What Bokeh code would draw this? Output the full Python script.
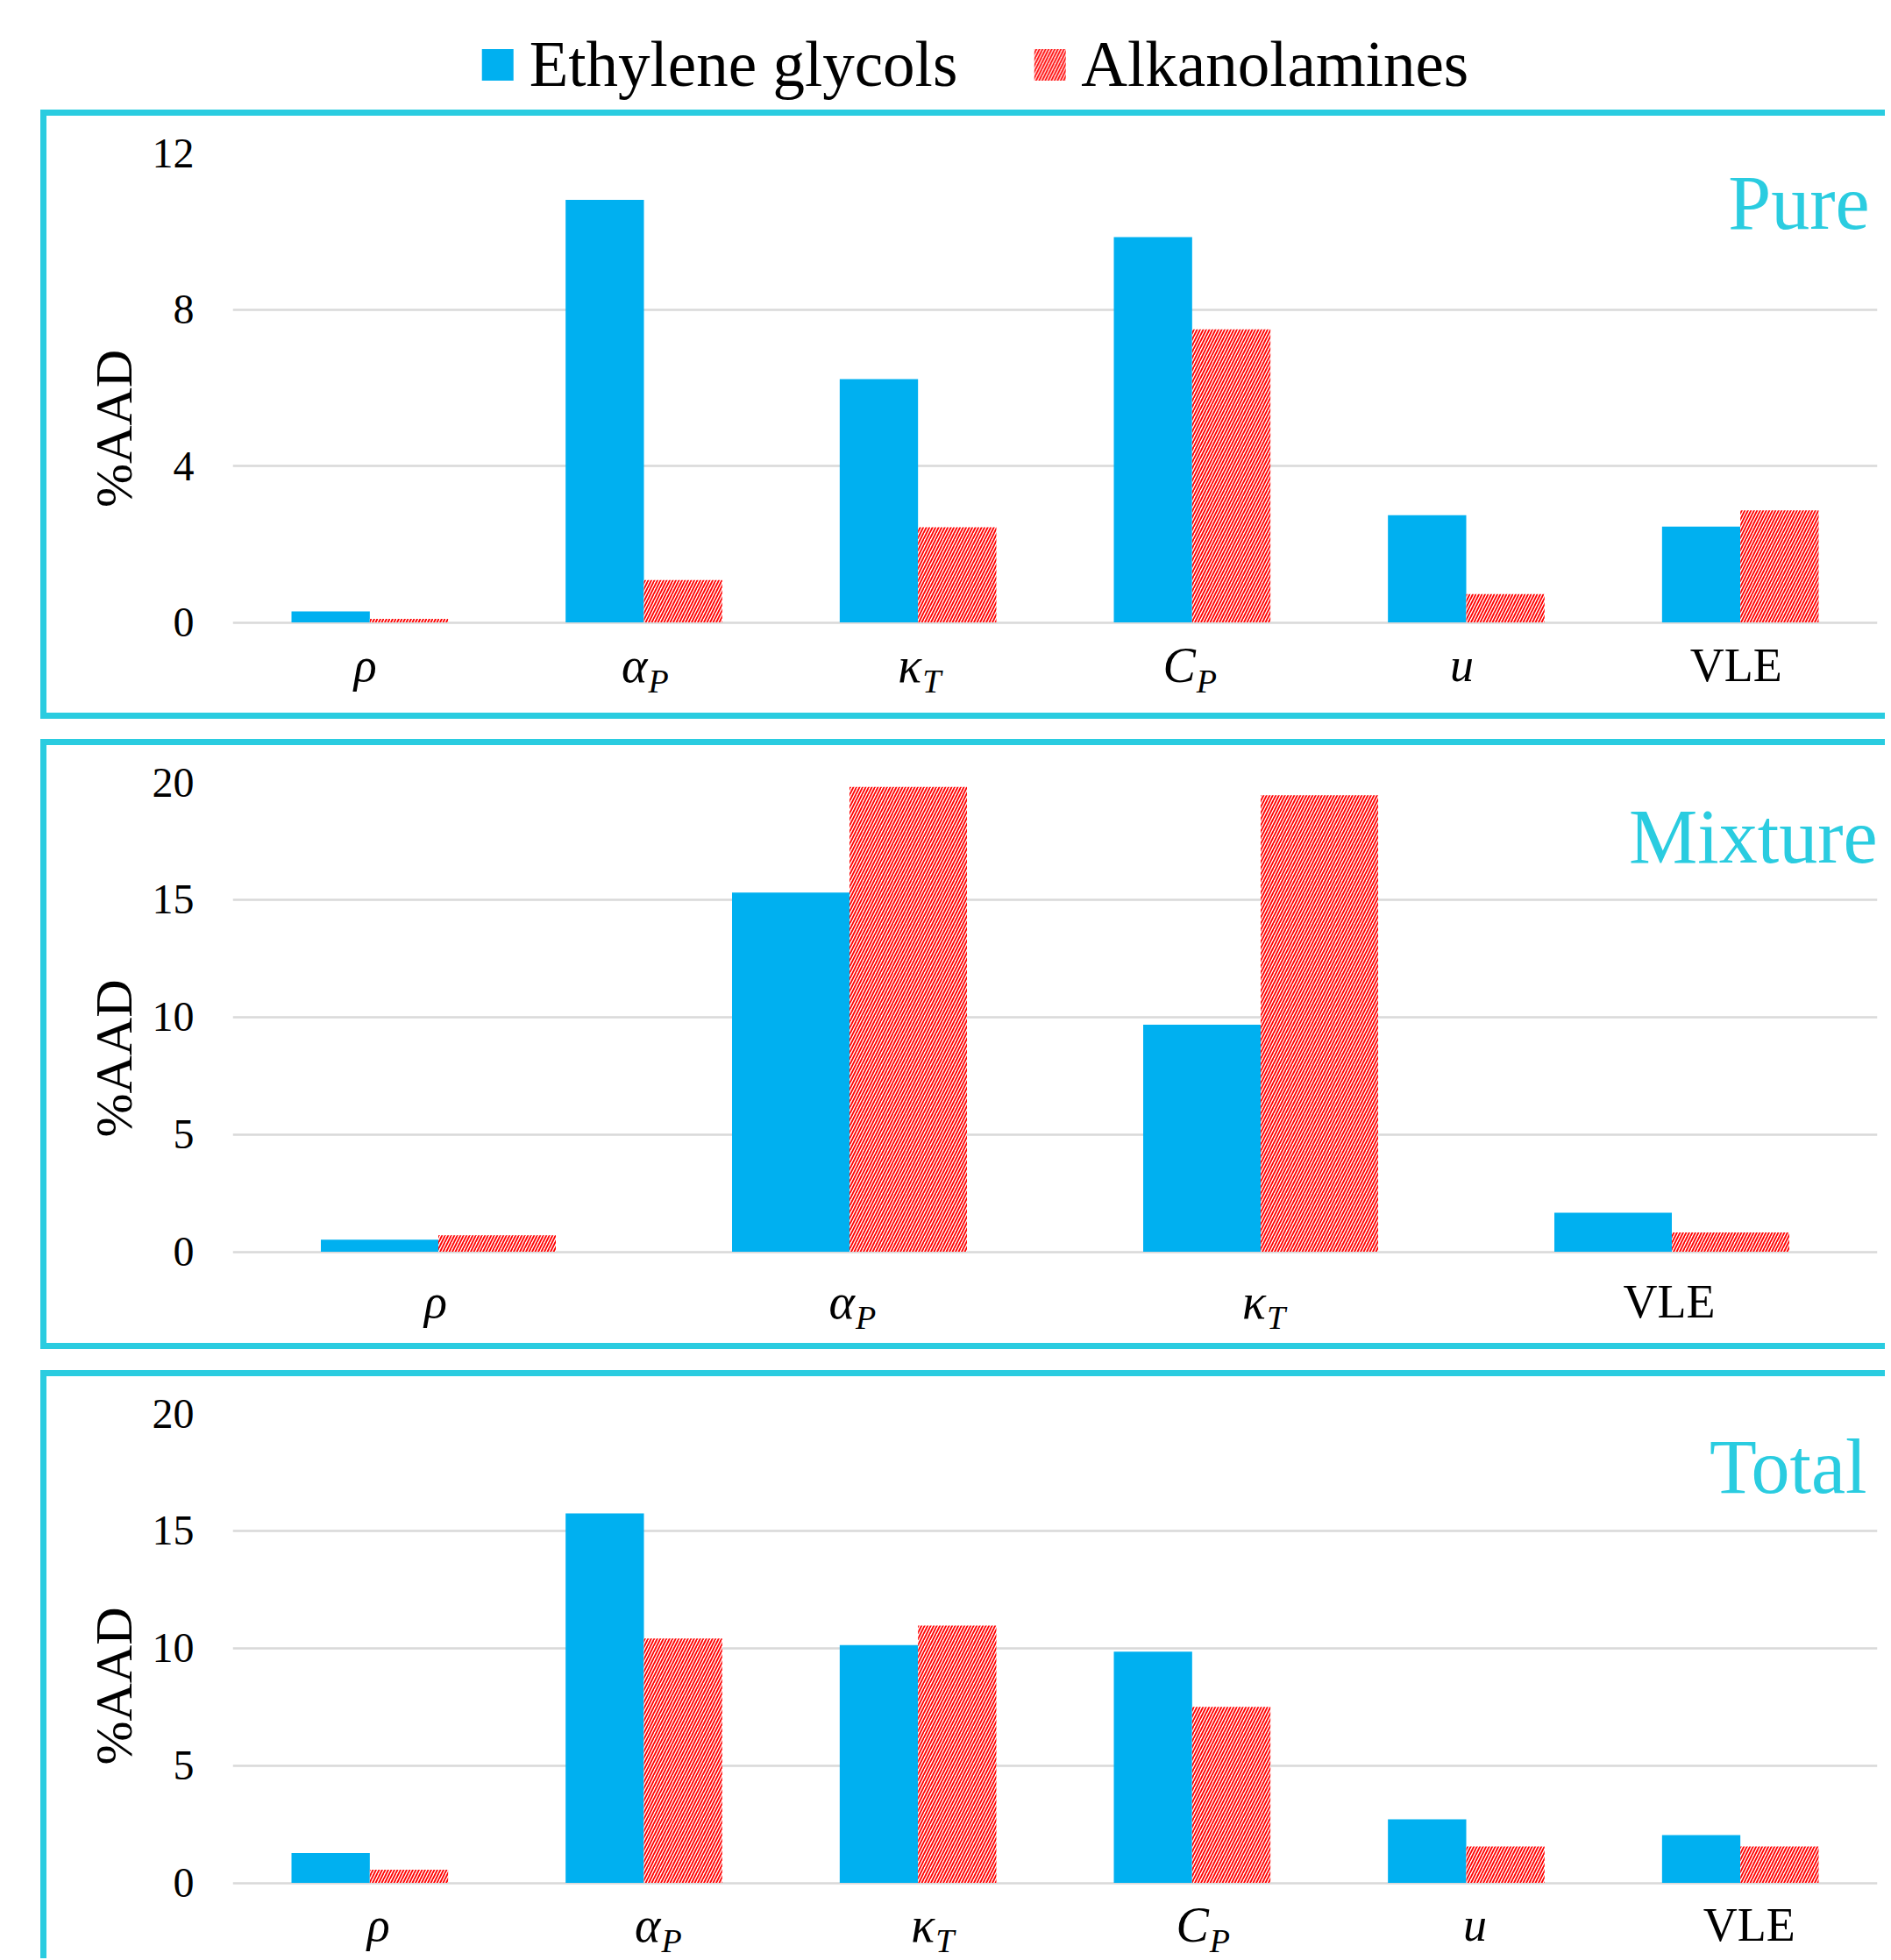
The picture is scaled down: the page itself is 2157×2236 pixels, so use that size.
from bokeh.plotting import figure
from bokeh.models import (ColumnDataSource, FactorRange, Range1d, Legend, LegendItem,
                          Label, FixedTicker, Spacer, Div)
from bokeh.layouts import column, row
from bokeh.transform import dodge
from bokeh.embed import file_html
from bokeh.resources import INLINE

# ---------------- data ----------------
series = ["Ethylene glycols", "Alkanolamines"]

pure_props = ["ρ", "αP", "κT", "CP", "u", "VLE"]
pure_glycols = [0.28, 10.8, 6.22, 9.85, 2.74, 2.45]
pure_amines = [0.09, 1.08, 2.43, 7.49, 0.72, 2.86]
pure_ticks = [0, 4, 8, 12]

mix_props = ["ρ", "αP", "κT", "VLE"]
mix_glycols = [0.51, 15.3, 9.67, 1.66]
mix_amines = [0.70, 19.8, 19.45, 0.82]
mix_ticks = [0, 5, 10, 15, 20]

total_props = ["ρ", "αP", "κT", "CP", "u", "VLE"]
total_glycols = [1.27, 15.74, 10.13, 9.85, 2.71, 2.04]
total_amines = [0.56, 10.41, 10.96, 7.50, 1.55, 1.55]
total_ticks = [0, 5, 10, 15, 20]

label_main = {"ρ": "ρ", "αP": "α", "κT": "κ", "CP": "C", "u": "u", "VLE": "VLE"}
label_sub = {"αP": "P", "κT": "T", "CP": "P"}
upright = {"VLE"}

# ---------------- style ----------------
BLUE = "#00B0F0"
RED = "#FF0000"
CYAN = "#2ACCE0"
GRID = "#D9D9D9"
FONT = "Liberation Serif"
PAGE_W = 2150
BOX_X = 46
LINE = 7
PANEL_W = PAGE_W - BOX_X - LINE
BORDER_L = 212
BORDER_R = 9
BAR_W = 0.2857
PLOT_PX = 535.5   # pixel height between 0 and the top tick


def hatch_kw():
    return dict(fill_color="white", line_color=None, hatch_pattern="right_diagonal_line",
                hatch_color=RED, hatch_scale=7, hatch_weight=1.8)


def cyan_block(w, h):
    return Div(text="", width=w, height=h, margin=0,
               styles={"background-color": CYAN})


def gap(w, h):
    return Spacer(width=w, height=h, margin=0)


def make_panel(props, glycols, amines, ticks, height, bottom, title,
               title_dy, title_dx, label_dy, label_dx):
    top = 42
    ymax = ticks[-1]
    frame_h = height - top - bottom
    ystart = -ymax * (frame_h - PLOT_PX) / PLOT_PX
    p = figure(x_range=FactorRange(factors=props), y_range=Range1d(ystart, ymax),
               width=PANEL_W, height=height, output_backend="svg", toolbar_location=None,
               title=None, x_axis_location=None,
               min_border_left=BORDER_L, min_border_right=BORDER_R,
               min_border_top=top, min_border_bottom=bottom)
    p.outline_line_color = None
    p.background_fill_color = "white"
    p.border_fill_color = "white"
    p.xgrid.visible = False
    p.ygrid.grid_line_color = GRID
    p.ygrid.grid_line_width = 2.5
    ax = p.yaxis[0]
    ax.ticker = FixedTicker(ticks=ticks)
    ax.bounds = (0, ymax)
    ax.axis_line_color = None
    ax.major_tick_line_color = None
    ax.minor_tick_line_color = None
    ax.major_tick_out = 0
    ax.major_tick_in = 0
    ax.major_label_standoff = 44
    ax.major_label_text_font = FONT
    ax.major_label_text_font_size = "48px"
    ax.major_label_text_color = "black"
    ax.axis_label = "%AAD"
    ax.axis_label_text_font = FONT
    ax.axis_label_text_font_size = "60px"
    ax.axis_label_text_font_style = "normal"
    ax.axis_label_text_color = "black"
    ax.axis_label_standoff = 8

    src = ColumnDataSource(dict(prop=props, g=glycols, a=amines))
    p.vbar(x=dodge("prop", -BAR_W / 2, range=p.x_range), top="g", width=BAR_W,
           source=src, fill_color=BLUE, line_color=None)
    p.vbar(x=dodge("prop", BAR_W / 2, range=p.x_range), top="a", width=BAR_W,
           source=src, **hatch_kw())

    # category labels (math italic with subscripts)
    for i, f in enumerate(props):
        main = label_main[f]
        sub = label_sub.get(f)
        style = "normal" if f in upright else "italic"
        if sub:
            p.add_layout(Label(x=i + 0.5, y=0, x_offset=label_dx + 9,
                               y_offset=-(label_dy - 18),
                               text=main, text_align="right", text_baseline="alphabetic",
                               text_font=FONT, text_font_style=style,
                               text_font_size="56px", text_color="black"))
            p.add_layout(Label(x=i + 0.5, y=0, x_offset=label_dx + 10,
                               y_offset=-label_dy,
                               text=sub, text_align="left", text_baseline="alphabetic",
                               text_font=FONT, text_font_style="italic",
                               text_font_size="38px", text_color="black"))
        else:
            p.add_layout(Label(x=i + 0.5, y=0, x_offset=label_dx,
                               y_offset=-(label_dy - 18),
                               text=main, text_align="center", text_baseline="alphabetic",
                               text_font=FONT, text_font_style=style,
                               text_font_size="54px", text_color="black"))

    p.add_layout(Label(x=len(props), y=ymax, x_offset=title_dx, y_offset=-(title_dy - 30),
                       text=title, text_align="right", text_baseline="alphabetic",
                       text_font=FONT, text_font_size="88px", text_color=CYAN))
    return p, src


def boxed(p, height, with_bottom=True):
    parts = [row(gap(BOX_X, LINE), cyan_block(PAGE_W - BOX_X, LINE), spacing=0),
             row(gap(BOX_X, height), cyan_block(LINE, height), p, spacing=0)]
    if with_bottom:
        parts.append(row(gap(BOX_X, LINE), cyan_block(PAGE_W - BOX_X, LINE), spacing=0))
    return parts


H1, H2, H3 = 681, 682, 664
p1, src1 = make_panel(pure_props, pure_glycols, pure_amines, pure_ticks, H1, 10,
                      "Pure", 87, -9, 67, -5)
p2, _ = make_panel(mix_props, mix_glycols, mix_amines, mix_ticks, H2, 10,
                   "Mixture", 92, 0, 75, -3)
p3, _ = make_panel(total_props, total_glycols, total_amines, total_ticks, H3, 0,
                   "Total", 91, -12, 66, 10)

# legend strip: its two renderers share the Pure data, but the strip's own range
# only holds the series names, so only the legend swatches are drawn
leg = figure(width=PAGE_W, height=125, x_range=FactorRange(factors=series),
             y_range=Range1d(-200, -100), output_backend="svg", toolbar_location=None,
             title=None, x_axis_location=None, y_axis_location=None)
leg.min_border_left = 70
leg.min_border_right = 0
leg.min_border_top = 22
leg.min_border_bottom = 0
leg.outline_line_color = None
leg.xgrid.visible = False
leg.ygrid.visible = False
r1 = leg.vbar(x="prop", top="g", bottom="g", width=BAR_W, source=src1,
              fill_color=BLUE, line_color=None)
r2 = leg.vbar(x="prop", top="a", bottom="a", width=BAR_W, source=src1, **hatch_kw())
legend = Legend(items=[LegendItem(label=series[0], renderers=[r1]),
                       LegendItem(label=series[1], renderers=[r2])],
                orientation="horizontal", location="center",
                glyph_width=45, glyph_height=45, label_standoff=14, spacing=82,
                padding=0, margin=0, border_line_color=None, background_fill_alpha=0,
                label_text_font=FONT, label_text_font_size="73px",
                label_text_color="black")
leg.add_layout(legend, "center")

children = [leg]
children += boxed(p1, H1)
children.append(gap(PAGE_W, 23))
children += boxed(p2, H2)
children.append(gap(PAGE_W, 24))
children += boxed(p3, H3, with_bottom=False)

layout = column(children, spacing=0)
open("out.html", "w").write(file_html(layout, INLINE))
